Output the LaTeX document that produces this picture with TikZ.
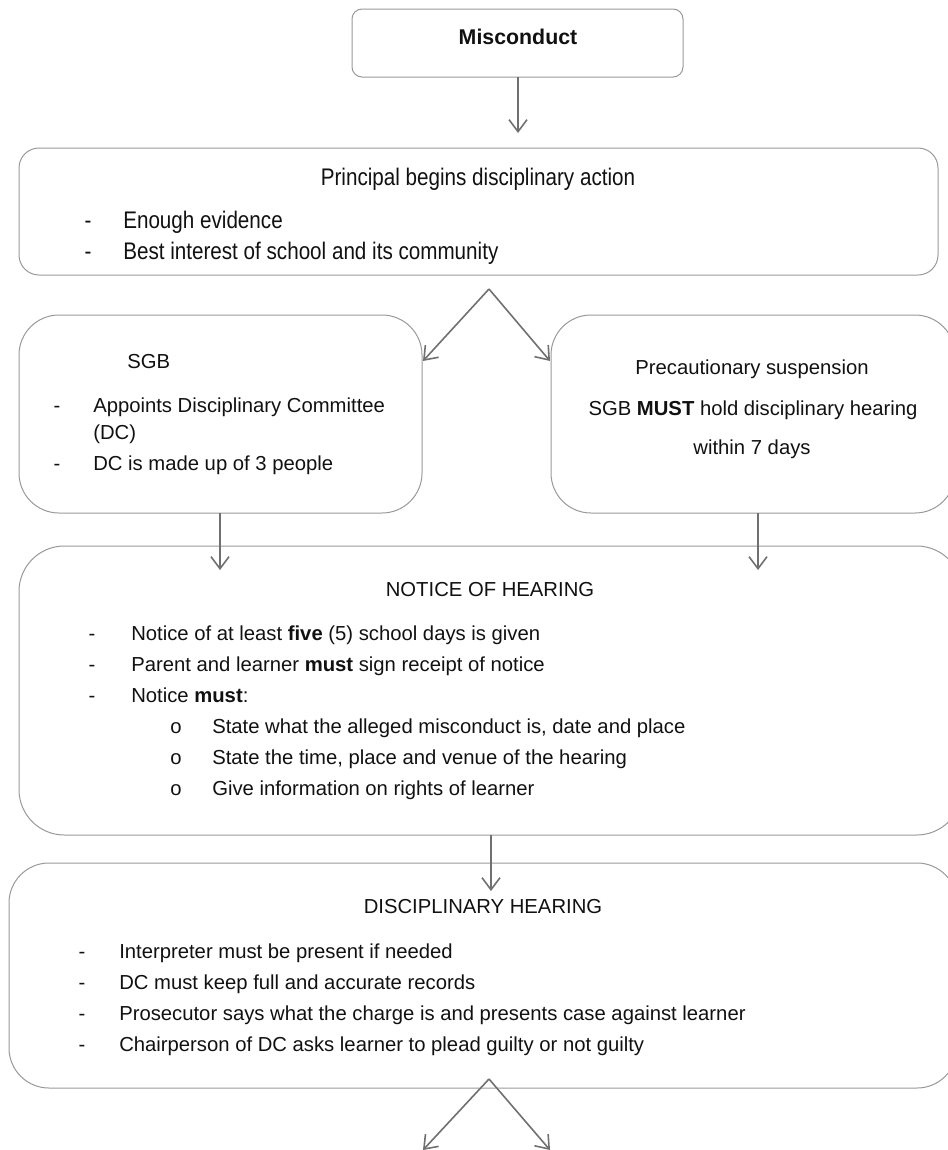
\documentclass[tikz,border=0pt]{standalone}
\usepackage{fontspec}
\setmainfont{Liberation Sans}
\newfontfamily\condfont[FakeStretch=0.86]{Liberation Sans}
\usetikzlibrary{arrows.meta}
\definecolor{boxgray}{HTML}{999999}
\definecolor{arrgray}{HTML}{707070}
\definecolor{txt}{HTML}{111111}
\tikzset{
  box/.style={draw=boxgray, line width=0.75pt},
  arr/.style={draw=arrgray, line width=1.2pt, -{Straight Barb[length=9pt,width=13.5pt,line width=1.2pt]}},
  tx/.style={inner sep=0pt, text=txt, text height=11pt, text depth=3pt, font=\fontsize{15.2}{18}\selectfont},
  cx/.style={inner sep=0pt, text=txt, text height=13pt, text depth=4pt, font=\condfont\fontsize{18}{21}\selectfont},
  hold/.style={inner sep=0pt},
}
\begin{document}
\begin{tikzpicture}[x=0.75pt,y=-0.75pt]
\useasboundingbox (0,0) rectangle (948,1150);
\clip (0,0) rectangle (948,1150);
% boxes
\draw[box, rounded corners=7.5pt] (352,9) rectangle (683,77);
\node[hold, minimum width=248.25pt, minimum height=51pt] (b1) at (517.5,43) {};
\draw[box, rounded corners=15pt] (19,148) rectangle (938,275);
\node[hold, minimum width=689.25pt, minimum height=95.25pt] (b2) at (478.5,211.5) {};
\draw[box, rounded corners=30pt] (19,315) rectangle (422,513);
\node[hold, minimum width=302.25pt, minimum height=148.5pt] (b3) at (220.5,414) {};
\draw[box, rounded corners=30pt] (551,315) rectangle (955,513);
\node[hold, minimum width=303pt, minimum height=148.5pt] (b4) at (753,414) {};
\draw[box, rounded corners=34pt] (19,546) rectangle (962,835);
\node[hold, minimum width=707.25pt, minimum height=216.75pt] (b5) at (490.5,690.5) {};
\draw[box, rounded corners=30pt] (9,863) rectangle (957,1088);
\node[hold, minimum width=711pt, minimum height=168.75pt] (b6) at (483,975.5) {};
% texts
\node[tx, font=\bfseries\fontsize{16}{19}\selectfont] (t1) at (518,39) {Misconduct};
\node[cx] (t2) at (478,179) {Principal begins disciplinary action};
\node[cx] (t2d1) at (88,222) {-};
\node[cx, anchor=west] (t2a) at (123,222) {Enough evidence};
\node[cx] (t2d2) at (88,253) {-};
\node[cx, anchor=west] (t2b) at (123,253) {Best interest of school and its community};
%
\node[tx, anchor=west] (t3) at (127,363) {SGB};
\node[tx] (t3d1) at (57,407) {-};
\node[tx, anchor=west] (t3a) at (93,407) {Appoints Disciplinary Committee};
\node[tx, anchor=west] (t3b) at (93,434) {(DC)};
\node[tx] (t3d2) at (57,465) {-};
\node[tx, anchor=west] (t3c) at (93,465) {DC is made up of 3 people};
%
\node[tx] (t4a) at (752,369) {Precautionary suspension};
\node[tx] (t4b) at (753,410) {SGB \textbf{MUST} hold disciplinary hearing};
\node[tx] (t4c) at (752,449) {within 7 days};
%
\node[tx] (t5) at (490,591) {NOTICE OF HEARING};
\node[tx] (t5d1) at (92,635) {-};
\node[tx, anchor=west] (t5a) at (131,635) {Notice of at least \textbf{five} (5) school days is given};
\node[tx] (t5d2) at (92,666) {-};
\node[tx, anchor=west] (t5b) at (131,666) {Parent and learner \textbf{must} sign receipt of notice};
\node[tx] (t5d3) at (92,697) {-};
\node[tx, anchor=west] (t5c) at (131,697) {Notice \textbf{must}:};
\node[tx] (t5o1) at (176,728) {o};
\node[tx, anchor=west] (t5e) at (212,728) {State what the alleged misconduct is, date and place};
\node[tx] (t5o2) at (176,759) {o};
\node[tx, anchor=west] (t5f) at (212,759) {State the time, place and venue of the hearing};
\node[tx] (t5o3) at (176,790) {o};
\node[tx, anchor=west] (t5g) at (212,790) {Give information on rights of learner};
%
\node[tx] (t6) at (483,908) {DISCIPLINARY HEARING};
\node[tx] (t6d1) at (82,953) {-};
\node[tx, anchor=west] (t6a) at (119,953) {Interpreter must be present if needed};
\node[tx] (t6d2) at (82,984) {-};
\node[tx, anchor=west] (t6b) at (119,984) {DC must keep full and accurate records};
\node[tx] (t6d3) at (82,1015) {-};
\node[tx, anchor=west] (t6c) at (119,1015) {Prosecutor says what the charge is and presents case against learner};
\node[tx] (t6d4) at (82,1046) {-};
\node[tx, anchor=west] (t6d) at (119,1046) {Chairperson of DC asks learner to plead guilty or not guilty};
% connector points
\coordinate (e1) at (518,133);
\coordinate (f1) at (489,289);
\coordinate (e2l) at (423,361);
\coordinate (e2r) at (550,361);
\coordinate (e3) at (220,570);
\coordinate (e4) at (758,570);
\coordinate (e5) at (491,891);
\coordinate (f2) at (489,1079);
\coordinate (e6l) at (423,1150);
\coordinate (e6r) at (550,1150);
% connectors
\draw[arr] (b1.south -| e1) -- (e1);
\draw[arr] (f1) -- (e2l);
\draw[arr] (f1) -- (e2r);
\draw[arr] (b3.south -| e3) -- (e3);
\draw[arr] (b4.south -| e4) -- (e4);
\draw[arr] (b5.south -| e5) -- (e5);
\draw[arr] (f2) -- (e6l);
\draw[arr] (f2) -- (e6r);
\end{tikzpicture}
\end{document}
